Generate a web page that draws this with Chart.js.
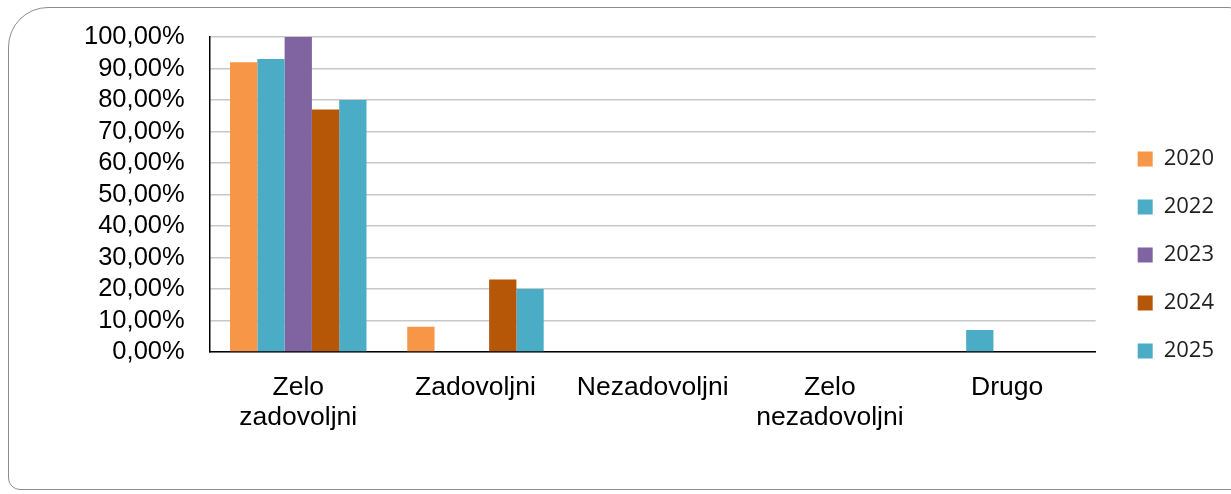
<!DOCTYPE html>
<html>
<head>
<meta charset="utf-8">
<style>
  html, body { margin: 0; padding: 0; background: #fff; overflow: hidden; }
  #frame {
    position: absolute; left: 8px; top: 7px; width: 1250px; height: 483px;
    border: 1.5px solid #8c8c8c; border-radius: 40px 30px 0 12px; box-sizing: border-box;
  }
  #wrap { position: absolute; left: 0; top: 0; width: 1231px; height: 494px; }
</style>
<script src="https://cdn.jsdelivr.net/npm/chart.js@4.4.1/dist/chart.umd.min.js"></script>
</head>
<body>
<div id="frame"></div>
<div id="wrap"><canvas id="chart" width="1231" height="494"></canvas></div>
<script>
// Categories (x axis) and series values, in percent
const categories = [['Zelo', 'zadovoljni'], 'Zadovoljni', 'Nezadovoljni', ['Zelo', 'nezadovoljni'], 'Drugo'];
const years = ['2020', '2022', '2023', '2024', '2025'];
const values2020 = [92, 8, 0, 0, 0];
const values2022 = [93, 0, 0, 0, 7];
const values2023 = [100, 0, 0, 0, 0];
const values2024 = [77, 23, 0, 0, 0];
const values2025 = [80, 20, 0, 0, 0];
const colors = ['#F79646', '#4BACC6', '#8064A2', '#B65708', '#4BACC6'];

const seriesValues = [values2020, values2022, values2023, values2024, values2025];

new Chart(document.getElementById('chart'), {
  type: 'bar',
  data: {
    labels: categories,
    datasets: years.map((y, i) => ({
      label: y,
      data: seriesValues[i],
      backgroundColor: colors[i],
      borderWidth: 0,
      categoryPercentage: 0.77,
      barPercentage: 1,
    })),
  },
  options: {
    responsive: false,
    animation: false,
    layout: { padding: { left: 59, top: 37, right: 7, bottom: 41 } },
    plugins: {
      tooltip: { enabled: false },
      legend: {
        position: 'right',
        title: { display: true, text: ' ', font: { size: 11 }, padding: 3.5 },
        labels: {
          boxWidth: 15,
          boxHeight: 15,
          padding: 26,
          color: '#222',
          font: { family: "'Open Sans', sans-serif", size: 22 },
        },
      },
    },
    scales: {
      y: {
        min: 0,
        max: 100,
        ticks: {
          stepSize: 10,
          autoSkip: false,
          color: '#000',
          padding: 25,
          font: { family: "'Liberation Sans', Arial, sans-serif", size: 25.5 },
          callback: (v) => v.toFixed(2).replace('.', ',') + '%',
        },
        grid: { color: '#c8c8c8', lineWidth: 1.5, drawTicks: false },
        border: { color: '#000', width: 1.5 },
        afterFit: (scale) => { scale.paddingTop = 0; scale.paddingBottom = 0; },
      },
      // empty spacer between plot and legend
      gap: {
        position: 'right',
        display: true,
        ticks: { display: false },
        grid: { display: false, drawTicks: false },
        border: { display: false },
        afterFit: (scale) => { scale.width = 16; },
      },
      x: {
        ticks: {
          color: '#000',
          padding: 20,
          maxRotation: 0,
          autoSkip: false,
          font: { family: "'Liberation Sans', Arial, sans-serif", size: 26.5, lineHeight: 1.15 },
        },
        grid: { display: false, drawTicks: false },
        border: { color: '#000', width: 1.5 },
      },
    },
  },
});
</script>
</body>
</html>
